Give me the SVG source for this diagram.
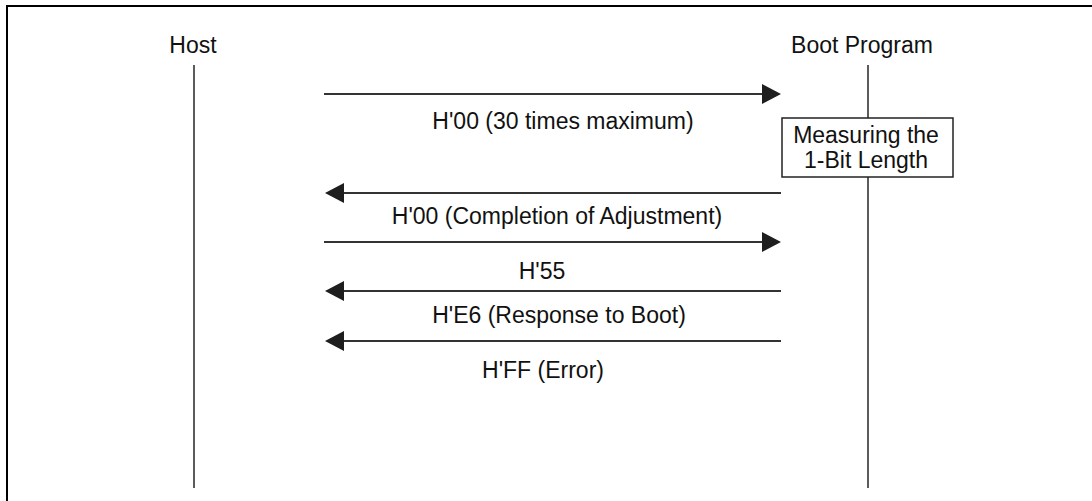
<svg xmlns="http://www.w3.org/2000/svg" width="1092" height="501" viewBox="0 0 1092 501">
<style>
text{font-family:"Liberation Sans",Arial,sans-serif;font-size:23px;fill:#111;text-anchor:middle}
.life{stroke:#333;stroke-width:1.6}
.msg{stroke:#333;stroke-width:2;fill:none}
.head{fill:#1e1e1e}
</style>
<rect x="0" y="0" width="1092" height="501" fill="#fff"/>
<rect x="7" y="6" width="1100" height="520" fill="none" stroke="#000" stroke-width="2"/>
<g id="host">
<text x="193" y="53">Host</text>
<line class="life" x1="194" y1="65" x2="194" y2="488"/>
</g>
<g id="boot">
<text x="862" y="53">Boot Program</text>
<line class="life" x1="868" y1="65" x2="868" y2="488"/>
</g>
<g id="measure">
<rect x="782" y="118" width="171" height="59" fill="#fff" stroke="#222" stroke-width="1.5"/>
<text x="866" y="143">Measuring the</text>
<text x="866" y="168">1-Bit Length</text>
</g>
<g id="connectors">
<line class="msg" x1="324" y1="94" x2="764" y2="94"/>
<polygon class="head" points="781,94 762,84 762,104"/>
<line class="msg" x1="342" y1="193" x2="781" y2="193"/>
<polygon class="head" points="325,193 344,183 344,203"/>
<line class="msg" x1="324" y1="242" x2="764" y2="242"/>
<polygon class="head" points="781,242 762,232 762,252"/>
<line class="msg" x1="342" y1="291" x2="781" y2="291"/>
<polygon class="head" points="325,291 344,281 344,301"/>
<line class="msg" x1="342" y1="341" x2="781" y2="341"/>
<polygon class="head" points="325,341 344,331 344,351"/>
</g>
<g id="labels">
<text x="563" y="129">H'00 (30 times maximum)</text>
<text x="557" y="224">H'00 (Completion of Adjustment)</text>
<text x="542" y="279">H'55</text>
<text x="559" y="323">H'E6 (Response to Boot)</text>
<text x="543" y="378">H'FF (Error)</text>
</g>
</svg>
